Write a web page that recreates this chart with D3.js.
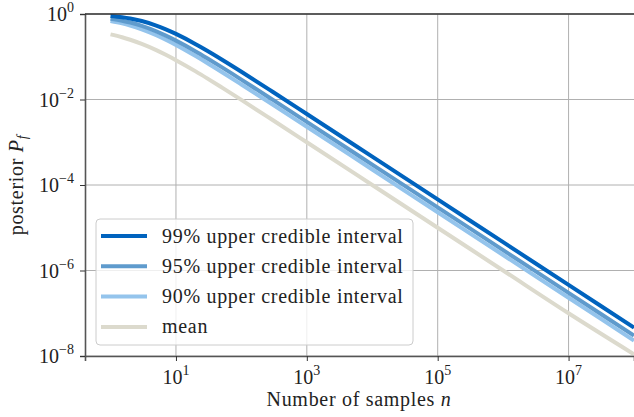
<!DOCTYPE html>
<html>
<head>
<meta charset="utf-8">
<script src="https://cdn.jsdelivr.net/npm/d3@7"></script>
<style>
  body { margin: 0; background: #fff; }
  svg { display: block; }
  text { font-family: "Liberation Serif", "DejaVu Serif", serif; fill: #222; }
</style>
</head>
<body>
<svg id="chart" width="634" height="417"></svg>
<script>
// number of samples n
const samples = [1, 1.5, 2, 3, 5, 7, 10, 20, 30, 50, 100, 300, 1e3, 1e4, 1e5, 1e6, 1e7, 1e8];

// posterior P_f
const upper99 = [0.9, 0.842, 0.785, 0.684, 0.536, 0.438, 0.342, 0.197, 0.138, 0.0863, 0.0446, 0.0152,
                 4.59e-3, 4.6e-4, 4.6e-5, 4.6e-6, 4.6e-7, 4.6e-8];
const upper95 = [0.776, 0.698, 0.632, 0.527, 0.393, 0.312, 0.238, 0.133, 0.0921, 0.0571, 0.0292, 0.0099,
                 2.99e-3, 3.0e-4, 3.0e-5, 3.0e-6, 3.0e-7, 3.0e-8];
const upper90 = [0.684, 0.602, 0.536, 0.438, 0.319, 0.25, 0.189, 0.1038, 0.0716, 0.0441, 0.0225, 0.00762,
                 2.3e-3, 2.3e-4, 2.3e-5, 2.3e-6, 2.3e-7, 2.3e-8];
const meanPf = [0.333, 0.286, 0.25, 0.2, 0.143, 0.111, 0.0833, 0.0455, 0.03125, 0.0192, 0.0098, 0.00331,
                9.98e-4, 1.0e-4, 1.0e-5, 1.0e-6, 1.0e-7, 1.1e-8];

const seriesNames = ['99% upper credible interval', '95% upper credible interval',
                     '90% upper credible interval', 'mean'];
const xTickExps = [1, 3, 5, 7];
const yTickExps = [0, -2, -4, -6, -8];

const series = [
  {name: seriesNames[0], values: upper99, color: '#0063be'},
  {name: seriesNames[1], values: upper95, color: '#5f9bcd'},
  {name: seriesNames[2], values: upper90, color: '#94c4ec'},
  {name: seriesNames[3], values: meanPf, color: '#dcdacd'}
];

const svg = d3.select('#chart');
const margin = {top: 14, right: 0, bottom: 61, left: 85};
const width = 634 - margin.left - margin.right;
const height = 417 - margin.top - margin.bottom;

const xScale = d3.scaleLog().domain([Math.pow(10, -0.39), 1e8]).range([0, width]);
const yScale = d3.scaleLog().domain([1e-8, 1]).range([height, 0]);

const g = svg.append('g').attr('transform', `translate(${margin.left},${margin.top})`);

// grid
g.append('g').selectAll('line').data(xTickExps).enter().append('line')
  .attr('x1', d => xScale(Math.pow(10, d))).attr('x2', d => xScale(Math.pow(10, d)))
  .attr('y1', 0).attr('y2', height)
  .attr('stroke', '#b0b0b0').attr('stroke-width', 1);
g.append('g').selectAll('line').data(yTickExps).enter().append('line')
  .attr('y1', d => yScale(Math.pow(10, d))).attr('y2', d => yScale(Math.pow(10, d)))
  .attr('x1', 0).attr('x2', width)
  .attr('stroke', '#b0b0b0').attr('stroke-width', 1);

// lines, mean drawn first so the blues sit on top
const line = d3.line()
  .x((d, i) => xScale(samples[i]))
  .y(d => yScale(d))
  .curve(d3.curveMonotoneX);

g.append('g').selectAll('path').data(series.slice().reverse()).enter().append('path')
  .attr('d', d => line(d.values))
  .attr('fill', 'none')
  .attr('stroke', d => d.color)
  .attr('stroke-width', 4);

// axes
let xAxis = d3.axisBottom(xScale).tickValues(xTickExps.map(e => Math.pow(10, e))).tickFormat('').tickSizeOuter(0).tickSize(5);
let yAxis = d3.axisLeft(yScale).tickValues(yTickExps.map(e => Math.pow(10, e))).tickFormat('').tickSizeOuter(0).tickSize(5);

let xg = g.append('g').attr('transform', `translate(0,${height})`).call(xAxis);
let yg = g.append('g').call(yAxis);
[xg, yg].forEach(a => {
  a.select('.domain').attr('stroke', '#555').attr('stroke-width', 1.6);
  a.selectAll('.tick line').attr('stroke', '#333').attr('stroke-width', 1);
});

// top spine
g.append('line').attr('x1', 0).attr('x2', width).attr('y1', 0).attr('y2', 0)
  .attr('stroke', '#333').attr('stroke-width', 1.4);

function powerLabel(sel, exp) {
  sel.append('tspan').text('10');
  sel.append('tspan').attr('dy', -9).attr('font-size', 14)
    .text(exp < 0 ? '\u2212' + (-exp) : exp);
}

xTickExps.forEach(e => {
  let t = g.append('text')
    .attr('x', xScale(Math.pow(10, e)))
    .attr('y', height + 28)
    .attr('text-anchor', 'middle')
    .attr('font-size', 20);
  powerLabel(t, e);
});
yTickExps.forEach(e => {
  let t = g.append('text')
    .attr('x', -11)
    .attr('y', yScale(Math.pow(10, e)) + 7)
    .attr('text-anchor', 'end')
    .attr('font-size', 20);
  powerLabel(t, e);
});

// axis labels
let xl = svg.append('text').attr('x', 359).attr('y', 406)
  .attr('text-anchor', 'middle').attr('font-size', 20).attr('letter-spacing', 0.7);
xl.append('tspan').text('Number of samples ');
xl.append('tspan').attr('font-style', 'italic').text('n');

let yl = svg.append('text').attr('transform', 'translate(23,185) rotate(-90)')
  .attr('text-anchor', 'middle').attr('font-size', 20).attr('letter-spacing', 0.7);
yl.append('tspan').text('posterior ');
yl.append('tspan').attr('font-style', 'italic').text('P');
yl.append('tspan').attr('font-style', 'italic').attr('font-size', 14).attr('dy', 4).text('f');

// legend
const lg = svg.append('g').attr('transform', 'translate(96,219)');
lg.append('rect')
  .attr('width', 317).attr('height', 126).attr('rx', 4)
  .attr('fill', 'rgba(255,255,255,0.8)')
  .attr('stroke', '#cccccc').attr('stroke-width', 1);

const items = lg.selectAll('.item').data(series).enter().append('g')
  .attr('transform', (d, i) => `translate(0,${17 + i * 30.3})`);
items.append('line')
  .attr('x1', 5).attr('x2', 51).attr('y1', 0).attr('y2', 0)
  .attr('stroke', d => d.color).attr('stroke-width', 4);
items.append('text')
  .attr('x', 66).attr('y', 6.5)
  .attr('font-size', 20).attr('letter-spacing', 0.7)
  .text(d => d.name);
</script>
</body>
</html>
